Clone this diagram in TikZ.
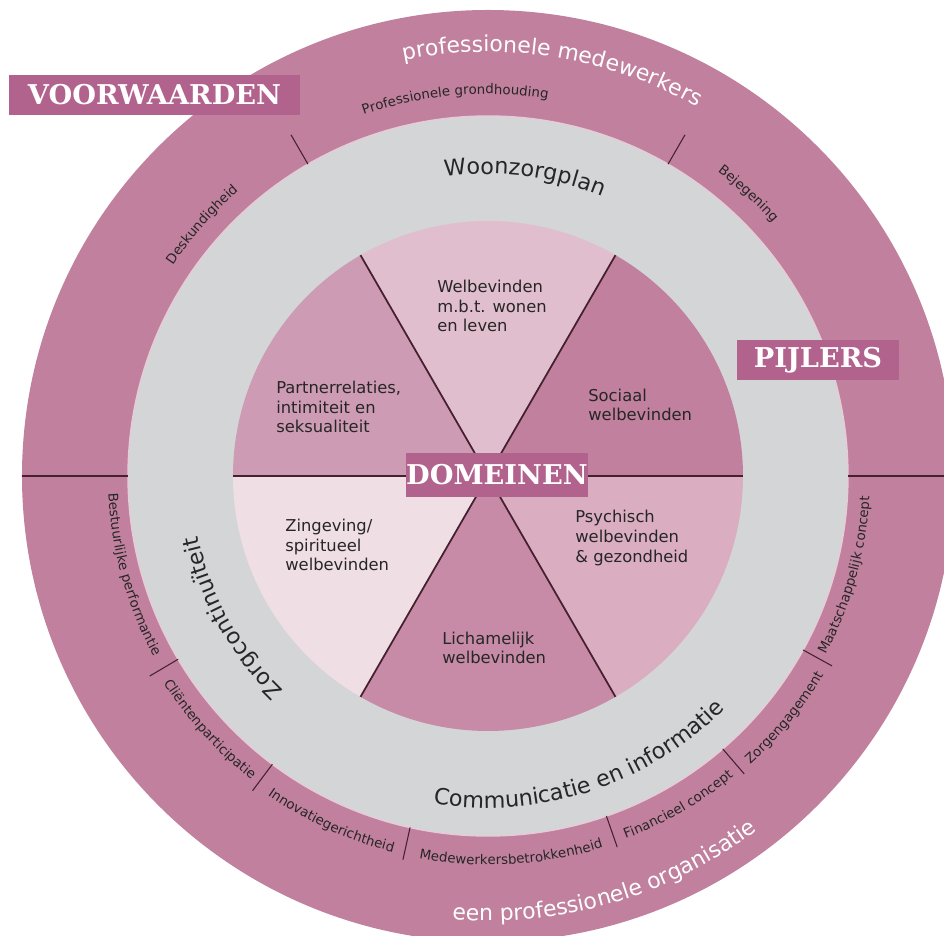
\documentclass[tikz,border=0pt]{standalone}
\usepackage{fontspec}
\setmainfont{DejaVu Sans}
\newfontfamily\boxfont{DejaVu Serif}
\usetikzlibrary{decorations.text}

\definecolor{ringmauve}{HTML}{C0809E}
\definecolor{ringgray}{HTML}{D4D5D7}
\definecolor{boxmauve}{HTML}{B2638D}
\definecolor{linedark}{HTML}{45202F}
\definecolor{secwonen}{HTML}{E1BECD}
\definecolor{secsociaal}{HTML}{C0809E}
\definecolor{secpsych}{HTML}{DAADC1}
\definecolor{seclichaam}{HTML}{C78BA7}
\definecolor{seczin}{HTML}{F0DEE5}
\definecolor{secpartner}{HTML}{CE9BB4}

% text fonts along the rings
\newcommand{\smallring}{\fontsize{7.6}{9}\selectfont\color{black!85}}
\newcommand{\midring}{\fontsize{12.7}{15}\selectfont\color{black!85}}
\newcommand{\bigring}{\fontsize{12.5}{15}\selectfont\color{white}}

% text on an arc: centre angle, radius, format, text
\newcommand{\cwtext}[4]{%
  \path[decorate, decoration={text along path, text align=center, text={|#3|#4}}]
    (#1+40:#2) arc[start angle=#1+40, end angle=#1-40, radius=#2];}
\newcommand{\ccwtext}[4]{%
  \path[decorate, decoration={text along path, text align=center, text={|#3|#4}}]
    (#1-40:#2) arc[start angle=#1-40, end angle=#1+40, radius=#2];}

\tikzset{
  labelbox/.style={fill=boxmauve, text=white, inner sep=0pt,
    font=\boxfont\bfseries\fontsize{15.5}{18}\selectfont},
  domaintext/.style={anchor=west, align=left, inner sep=0pt, text=black!85,
    font=\fontsize{9.3}{11.2}\selectfont},
  divider/.style={draw=linedark, line width=0.6pt},
  pieline/.style={draw=linedark, line width=1pt}
}

\begin{document}
\begin{tikzpicture}[x=0.02cm, y=0.02cm]
    \useasboundingbox (-488,-460) rectangle (456,476);
    \clip (-488,-460) rectangle (456,476);
    \fill[white] (-488,-460) rectangle (456,476);

    % Rings
    \fill[ringmauve] (0,0) circle[radius=466];
    \fill[ringgray] (0,0) circle[radius=360];
    \draw[white!60!ringmauve, line width=0.8pt] (0,0) circle[radius=360];

    % Domains
    \fill[secsociaal] (0,0) -- (0:255) arc[start angle=0, end angle=60, radius=255] -- cycle;
    \fill[secwonen] (0,0) -- (60:255) arc[start angle=60, end angle=120, radius=255] -- cycle;
    \fill[secpartner] (0,0) -- (120:255) arc[start angle=120, end angle=180, radius=255] -- cycle;
    \fill[seczin] (0,0) -- (180:255) arc[start angle=180, end angle=240, radius=255] -- cycle;
    \fill[seclichaam] (0,0) -- (240:255) arc[start angle=240, end angle=300, radius=255] -- cycle;
    \fill[secpsych] (0,0) -- (300:255) arc[start angle=300, end angle=360, radius=255] -- cycle;
    \foreach \a in {60,120,240,300}
        \draw[pieline] (0,0) -- (\a:255);
    \draw[pieline] (-255,0) -- (255,0);
    \draw[pieline] (-466,0) -- (-360,0);
    \draw[pieline] (360,0) -- (466,0);

    % Dividers in the outer ring
    \foreach \a in {60,120}
        \draw[divider] (\a:360) -- (\a:394);
    \foreach \a in {210.6,233.2,257.5,289.2,310.7,331.1}
        \draw[divider] (\a:360) -- (\a:393);

    % Domain texts
    \node[domaintext] (wonen) at (-51,170) {Welbevinden\\m.b.t. wonen\\en leven};
    \node[domaintext] (sociaal) at (100,71) {Sociaal\\welbevinden};
    \node[domaintext] (partner) at (-212,69) {Partnerrelaties,\\intimiteit en\\seksualiteit};
    \node[domaintext] (zingeving) at (-203,-69) {Zingeving/\\spiritueel\\welbevinden};
    \node[domaintext] (psychisch) at (87,-62) {Psychisch\\welbevinden\\\& gezondheid};
    \node[domaintext] (lichaam) at (-46,-172) {Lichamelijk\\welbevinden};

    % Pillars
    \cwtext{83}{302}{\midring}{Woonzorgplan}
    \cwtext{209}{296}{\midring}{Zorgcontinuïteit}
    \ccwtext{288}{332}{\midring}{Communicatie en informatie}

    % Conditions
    \cwtext{81}{424}{\bigring}{professionele medewerkers}
    \ccwtext{286.3}{445}{\bigring}{een professionele organisatie}
    \cwtext{138.7}{379}{\smallring}{Deskundigheid}
    \cwtext{95}{382}{\smallring}{Professionele grondhouding}
    \cwtext{47.3}{381}{\smallring}{Bejegening}
    \ccwtext{195.5}{380}{\smallring}{Bestuurlijke performantie}
    \ccwtext{222.3}{385}{\smallring}{Cliëntenparticipatie}
    \ccwtext{245.6}{388}{\smallring}{Innovatiegerichtheid}
    \ccwtext{273.5}{389}{\smallring}{Medewerkersbetrokkenheid}
    \ccwtext{300}{388}{\smallring}{Financieel concept}
    \ccwtext{320.8}{390}{\smallring}{Zorgengagement}
    \ccwtext{344.5}{382}{\smallring}{Maatschappelijk concept}

    % Labels
    \node[labelbox, minimum width=5.82cm, minimum height=0.8cm] (voorwaarden) at (-333.5,381) {VOORWAARDEN};
    \node[labelbox, minimum width=3.24cm, minimum height=0.8cm] (pijlers) at (330,116) {PIJLERS};
    \node[labelbox, minimum width=3.64cm, minimum height=0.88cm] (domeinen) at (9,1) {DOMEINEN};
\end{tikzpicture}
\end{document}
